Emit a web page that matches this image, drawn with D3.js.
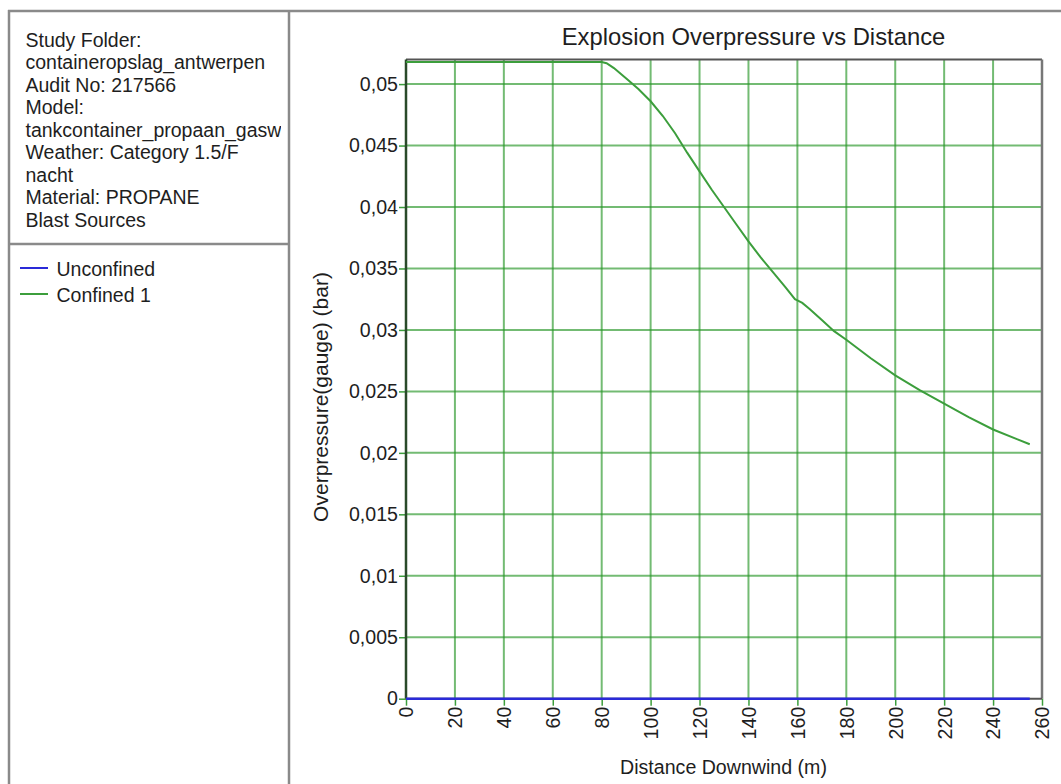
<!DOCTYPE html>
<html>
<head>
<meta charset="utf-8">
<script src="https://cdn.jsdelivr.net/npm/d3@7/dist/d3.min.js"></script>
<style>
  html, body { margin: 0; padding: 0; background: #fff; }
  svg { display: block; font-family: "Liberation Sans", Arial, sans-serif; }
</style>
</head>
<body>
<svg id="chart" width="1061" height="784"></svg>
<script>
// ---- data ----
const infoLines = [
  "Study Folder:",
  "containeropslag_antwerpen",
  "Audit No: 217566",
  "Model:",
  "tankcontainer_propaan_gasweg",
  "Weather: Category 1.5/F",
  "nacht",
  "Material: PROPANE",
  "Blast Sources"
];
const seriesNames = ["Unconfined", "Confined 1"];
const seriesColors = ["#2a2ad8", "#3c9e3c"];
const unconfinedDist = [0, 255];
const unconfinedPress = [0, 0];
const confinedDist = [0, 80, 82, 85, 88, 91, 95, 100, 105, 110, 115, 120, 125, 130, 135, 140, 145, 150, 155, 159, 160, 162, 165, 170, 175, 180, 190, 200, 210, 220, 230, 240, 250, 255];
const confinedPress = [0.0518, 0.0518, 0.0517, 0.0513, 0.0508, 0.0503, 0.0496, 0.0486, 0.0474, 0.0460, 0.0444, 0.0429, 0.0414, 0.0400, 0.0386, 0.0372, 0.0359, 0.0347, 0.0335, 0.0325, 0.0324, 0.0322, 0.0317, 0.0308, 0.0299, 0.0292, 0.0277, 0.0263, 0.0251, 0.0240, 0.0229, 0.0219, 0.0211, 0.0207];
const xTicks = [0, 20, 40, 60, 80, 100, 120, 140, 160, 180, 200, 220, 240, 260];
const yTicks = [0, 0.005, 0.01, 0.015, 0.02, 0.025, 0.03, 0.035, 0.04, 0.045, 0.05];
const titleText = "Explosion Overpressure vs Distance";
const xTitle = "Distance Downwind (m)";
const yTitle = "Overpressure(gauge) (bar)";

// ---- layout ----
const svg = d3.select("#chart");
const frameColor = "#8a8a8a";
const textColor = "#1e1e1e";
const gridColor = "rgba(40,150,40,0.65)";

const plot = { left: 406, right: 1042, top: 59.5, bottom: 698.7 };
const x = d3.scaleLinear().domain([0, 260]).range([plot.left, plot.right]);
const y = d3.scaleLinear().domain([0, 0.052]).range([plot.bottom, plot.top]);

// outer frames
svg.append("line").attr("x1", 8).attr("x2", 1061).attr("y1", 11).attr("y2", 11)
  .attr("stroke", frameColor).attr("stroke-width", 2.5);
svg.append("line").attr("x1", 9).attr("x2", 9).attr("y1", 10).attr("y2", 784)
  .attr("stroke", frameColor).attr("stroke-width", 2.5);
svg.append("line").attr("x1", 289).attr("x2", 289).attr("y1", 10).attr("y2", 784)
  .attr("stroke", frameColor).attr("stroke-width", 2.5);
svg.append("line").attr("x1", 9).attr("x2", 289).attr("y1", 244).attr("y2", 244)
  .attr("stroke", frameColor).attr("stroke-width", 2.5);

// info text, clipped to the panel
svg.append("clipPath").attr("id", "infoClip").append("rect")
  .attr("x", 10).attr("y", 12).attr("width", 271).attr("height", 230);
const info = svg.append("g").attr("clip-path", "url(#infoClip)");
info.selectAll("text").data(infoLines).join("text")
  .attr("x", 25.5).attr("y", (d, i) => 46.7 + i * 22.5)
  .attr("font-size", 19.5).attr("fill", textColor).text(d => d);

// legend
const leg = svg.append("g");
seriesNames.forEach((name, i) => {
  const yy = 268 + i * 26;
  leg.append("line").attr("x1", 20).attr("x2", 48).attr("y1", yy).attr("y2", yy)
    .attr("stroke", seriesColors[i]).attr("stroke-width", 2);
  leg.append("text").attr("x", 56.5).attr("y", yy + 7.5)
    .attr("font-size", 19.5).attr("fill", textColor).text(name);
});

// title
svg.append("text").attr("x", 753.5).attr("y", 45).attr("text-anchor", "middle")
  .attr("font-size", 23.8).attr("fill", textColor).text(titleText);

// grid
const grid = svg.append("g");
grid.selectAll("line.v").data(xTicks.slice(1, -1)).join("line").attr("class", "v")
  .attr("x1", d => x(d)).attr("x2", d => x(d)).attr("y1", plot.top).attr("y2", plot.bottom)
  .attr("stroke", gridColor).attr("stroke-width", 2);
grid.selectAll("line.h").data(yTicks.slice(1)).join("line").attr("class", "h")
  .attr("x1", plot.left).attr("x2", plot.right).attr("y1", d => y(d)).attr("y2", d => y(d))
  .attr("stroke", gridColor).attr("stroke-width", 2);

// axes
const fmt = d => d === 0 ? "0" : d3.format("")(+d.toFixed(3)).replace(".", ",");
const yAxis = d3.axisLeft(y).tickValues(yTicks).tickSize(7).tickPadding(1).tickFormat(fmt);
const gy = svg.append("g").attr("transform", `translate(${plot.left},0)`).call(yAxis);
gy.select(".domain").remove();
gy.selectAll(".tick line").attr("stroke", "#3c9e3c").attr("stroke-width", 1.5);
gy.selectAll(".tick text").attr("font-size", 19.6).attr("fill", textColor)
  .attr("font-family", "Liberation Sans, Arial, sans-serif");

const xAxis = d3.axisBottom(x).tickValues(xTicks).tickSize(7).tickFormat(d => String(d));
const gx = svg.append("g").attr("transform", `translate(0,${plot.bottom})`).call(xAxis);
gx.select(".domain").remove();
gx.selectAll(".tick line").attr("stroke", "#3c9e3c").attr("stroke-width", 1.5);
gx.selectAll(".tick text").attr("font-size", 19.6).attr("fill", textColor)
  .attr("font-family", "Liberation Sans, Arial, sans-serif")
  .attr("transform", "rotate(-90)").attr("text-anchor", "end")
  .attr("x", -8).attr("y", 0).attr("dy", "0.35em");

// plot frame
svg.append("line").attr("x1", plot.left).attr("x2", plot.right).attr("y1", plot.top).attr("y2", plot.top)
  .attr("stroke", "#555").attr("stroke-width", 2);
svg.append("line").attr("x1", plot.right).attr("x2", plot.right).attr("y1", plot.top).attr("y2", plot.bottom)
  .attr("stroke", "#777").attr("stroke-width", 2.5);
svg.append("line").attr("x1", plot.left).attr("x2", plot.right).attr("y1", plot.bottom).attr("y2", plot.bottom)
  .attr("stroke", "#555").attr("stroke-width", 2);
svg.append("line").attr("x1", plot.left).attr("x2", plot.left).attr("y1", plot.top).attr("y2", plot.bottom)
  .attr("stroke", "#2a4a2a").attr("stroke-width", 2.5);

// series
const line = d3.line().x(d => x(d[0])).y(d => y(d[1]));
const confined = confinedDist.map((d, i) => [d, confinedPress[i]]);
const unconfined = unconfinedDist.map((d, i) => [d, unconfinedPress[i]]);
svg.append("path").datum(confined).attr("d", line).attr("fill", "none")
  .attr("stroke", seriesColors[1]).attr("stroke-width", 2);
svg.append("path").datum(unconfined).attr("d", line).attr("fill", "none")
  .attr("stroke", seriesColors[0]).attr("stroke-width", 2.5);

// axis titles
svg.append("text").attr("x", 723.5).attr("y", 774).attr("text-anchor", "middle")
  .attr("font-size", 19.6).attr("fill", textColor).text(xTitle);
svg.append("text").attr("transform", "translate(328,397) rotate(-90)").attr("text-anchor", "middle")
  .attr("font-size", 21).attr("fill", textColor).text(yTitle);
</script>
</body>
</html>
